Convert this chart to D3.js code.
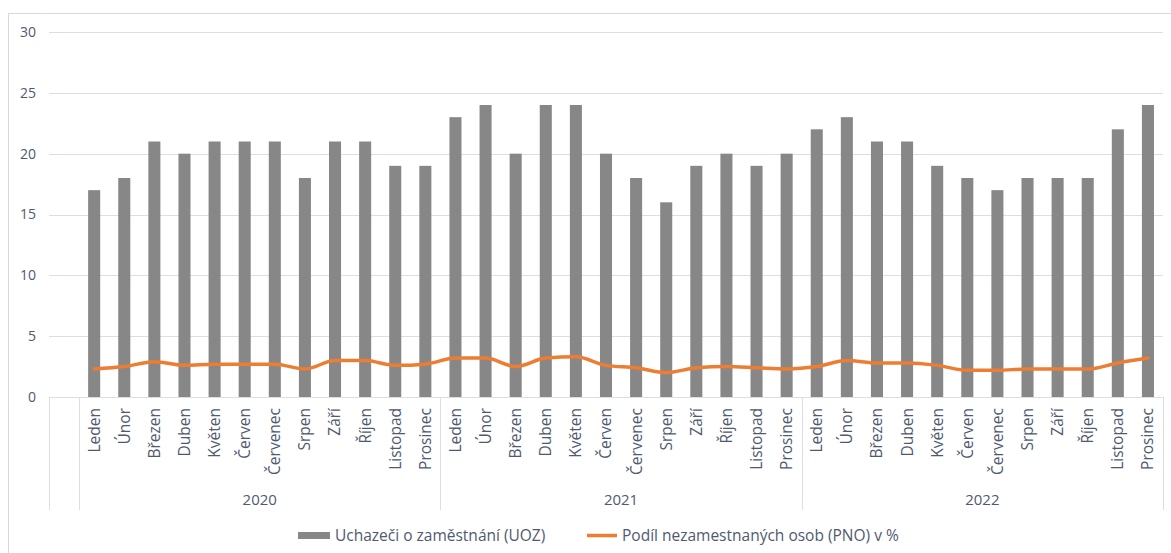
<!DOCTYPE html>
<html><head><meta charset="utf-8">
<script src="https://cdn.jsdelivr.net/npm/d3@7"></script>
<style>
html,body{margin:0;padding:0;background:#fff;}
svg text{font-family:"Open Sans","Noto Sans",sans-serif;fill:#4f5a70;}
</style></head>
<body>
<svg id="chart" width="1171" height="553"></svg>
<script>
const years = ["2020","2021","2022"];
const months = ["Leden","Únor","Březen","Duben","Květen","Červen","Červenec","Srpen","Září","Říjen","Listopad","Prosinec"];
const uoz2020 = [17,18,21,20,21,21,21,18,21,21,19,19];
const uoz2021 = [23,24,20,24,24,20,18,16,19,20,19,20];
const uoz2022 = [22,23,21,21,19,18,17,18,18,18,22,24];
const pno2020 = [2.3,2.5,2.9,2.6,2.7,2.7,2.7,2.3,3.0,3.0,2.6,2.7];
const pno2021 = [3.2,3.2,2.5,3.2,3.3,2.6,2.4,2.0,2.4,2.5,2.4,2.3];
const pno2022 = [2.5,3.0,2.8,2.8,2.6,2.2,2.2,2.3,2.3,2.3,2.8,3.2];
const yTicks = [0,5,10,15,20,25,30];
const legendLabels = ["Uchazeči o zaměstnání (UOZ)","Podíl nezamestnaných osob (PNO) v %"];

const uozAll = [uoz2020,uoz2021,uoz2022];
const pnoAll = [pno2020,pno2021,pno2022];
const data = [];
years.forEach((yr,i)=>months.forEach((m,j)=>data.push({key:yr+"-"+j,year:yr,month:m,uoz:uozAll[i][j],pno:pnoAll[i][j]})));
const keys = ["blank"].concat(data.map(d=>d.key));

const svg = d3.select("#chart");
const L=49, R=1163, T=32, B=397;
const x = d3.scaleBand().domain(keys).range([L,R]).padding(0);
const y = d3.scaleLinear().domain([0,30]).range([B,T]);
const step = x.step();

// outer border
svg.append("rect").attr("x",8.5).attr("y",13.5).attr("width",1200).attr("height",600)
  .attr("fill","none").attr("stroke","#d9d9d9").attr("stroke-width",1);

// gridlines
svg.append("g").selectAll("line").data(yTicks).join("line")
  .attr("x1",L).attr("x2",R).attr("y1",d=>Math.round(y(d))+0.5).attr("y2",d=>Math.round(y(d))+0.5)
  .attr("stroke","#d9dfe7").attr("stroke-width",1);

// y labels
svg.append("g").selectAll("text").data(yTicks).join("text")
  .attr("x",36).attr("y",d=>y(d)).attr("dy","0.35em").attr("text-anchor","end")
  .attr("font-size",14).text(d=>d);

// bars
svg.append("g").selectAll("rect").data(data).join("rect")
  .attr("x",d=>x(d.key)+step*0.3).attr("width",step*0.4)
  .attr("y",d=>y(d.uoz)).attr("height",d=>y(0)-y(d.uoz))
  .attr("fill","#878787");

// line
const line = d3.line().x(d=>x(d.key)+step/2).y(d=>y(d.pno)).curve(d3.curveMonotoneX);
svg.append("path").datum(data).attr("d",line).attr("fill","none")
  .attr("stroke","#ED7D31").attr("stroke-width",3.5).attr("stroke-linejoin","round").attr("stroke-linecap","round");

// category axis lines
const axisBottom = 510;
const axisColor = "#d9dfe7";
svg.append("line").attr("x1",L).attr("x2",R).attr("y1",B+0.5).attr("y2",B+0.5).attr("stroke",axisColor);
const seps = [L, x(keys[1])].concat(years.map((yr,i)=>x(keys[1+12*(i+1)-1])+step));
svg.append("g").selectAll("line").data(seps).join("line")
  .attr("x1",d=>Math.round(d)+0.5).attr("x2",d=>Math.round(d)+0.5)
  .attr("y1",B).attr("y2",axisBottom).attr("stroke",axisColor);

// month labels
svg.append("g").selectAll("text").data(data).join("text")
  .attr("transform",d=>`translate(${x(d.key)+step/2},408) rotate(-90)`)
  .attr("text-anchor","end").attr("dy","0.35em").attr("font-size",15.5).text(d=>d.month);

// year labels
svg.append("g").selectAll("text").data(years).join("text")
  .attr("x",(d,i)=>(x(keys[1+12*i])+x(keys[12*(i+1)])+step)/2).attr("y",505)
  .attr("text-anchor","middle").attr("font-size",15).text(d=>d);

// legend
const lg = svg.append("g");
lg.append("rect").attr("x",298).attr("y",532).attr("width",32).attr("height",7).attr("fill","#878787");
lg.append("text").attr("x",335).attr("y",536).attr("dy","0.35em").attr("font-size",15.5).text(legendLabels[0]);
lg.append("line").attr("x1",587).attr("x2",617).attr("y1",535.5).attr("y2",535.5).attr("stroke","#ED7D31").attr("stroke-width",3.5);
lg.append("text").attr("x",622).attr("y",536).attr("dy","0.35em").attr("font-size",15.5).text(legendLabels[1]);
</script>
</body></html>
